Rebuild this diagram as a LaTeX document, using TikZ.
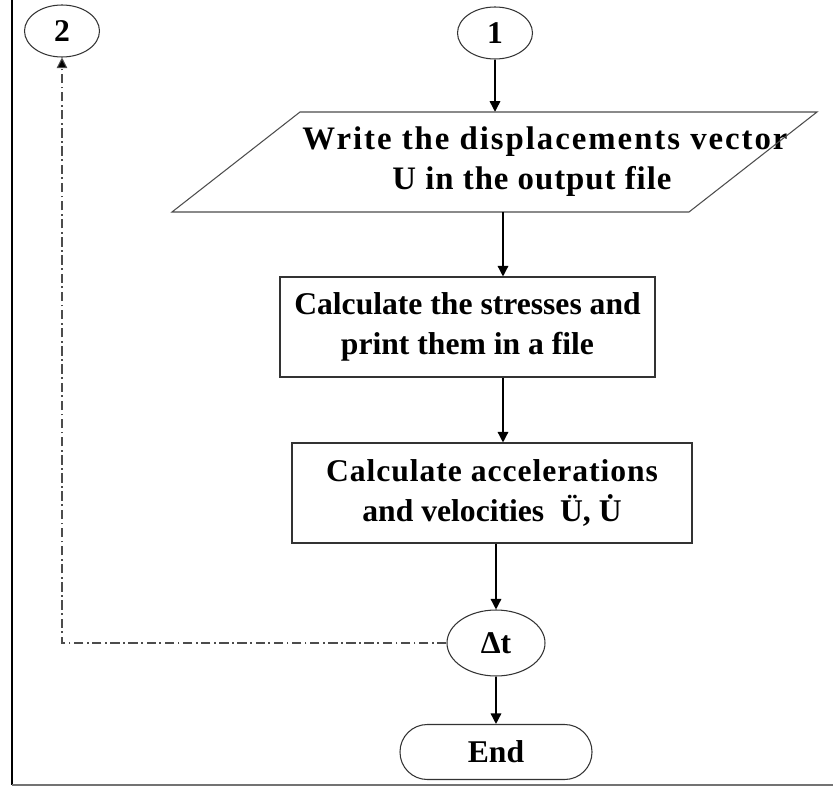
\documentclass[tikz,border=0pt]{standalone}
\usepackage{fontspec}
\setmainfont{Liberation Serif}
\newfontfamily\widefont{Liberation Serif}[LetterSpace=6]
\newfontfamily\midfont{Liberation Serif}[LetterSpace=3]
\usetikzlibrary{positioning,shapes,arrows.meta}

\begin{document}
\begin{tikzpicture}[x=0.03cm,y=-0.03cm,
  every node/.style={font=\fontsize{27}{34}\selectfont\bfseries},
  conn/.style={draw=black!80, line width=0.9pt, ellipse, inner sep=0pt},
  procbox/.style={draw=black!80, line width=0.9pt, rectangle, inner sep=0pt, align=center},
  flow/.style={line width=1.2pt, -{Triangle[length=9pt,width=9pt]}},
  back/.style={line width=0.9pt, black!70, dash pattern=on 8pt off 3pt on 1.5pt off 3pt,
    -{Triangle[length=9pt,width=9pt,fill=black]}}]
\useasboundingbox (0,0) rectangle (833,788);
% frame
\draw [line width = 1.4pt] (12,0) -- (12,785) ;
\draw [line width = 1.4pt, black!55] (12,785) -- (833,785) ;
% connectors on page
\node[conn, minimum width=2.25cm, minimum height=1.56cm] (c2) at (62,31) {2};
\node[conn, minimum width=2.25cm, minimum height=1.56cm] (c1) at (495,33) {1};
% output block
\node[inner sep=0pt, minimum height=3cm, align=left,
  font=\fontsize{28}{34}\widefont\bfseries] (para) at (545,162)
  {Write the displacements vector\\\hspace*{2.7cm}{\midfont U in the output file}};
\draw [line width = 0.9pt, black!70] (172,212) -- (689,212) -- (817,112) -- (300,112) -- cycle ;
\coordinate (colB) at (503,0);
% process boxes
\node[procbox, minimum width=11.25cm, minimum height=3cm] (stress) at (467.5,327)
  {Calculate the stresses and\\print them in a file};
\node[procbox, minimum width=12cm, minimum height=3cm] (accel) at (492,493)
  {{\midfont Calculate accelerations}\\and velocities~~\"U, \.U};
\node[conn, minimum width=2.94cm, minimum height=1.98cm] (dt) at (496,643) {Δt};
\node[draw=black!80, line width=0.9pt, rounded corners=0.82cm, minimum width=5.76cm,
  minimum height=1.65cm] (fin) at (496,752) {End};
% arrows
\draw[flow] (c1.south) -- (c1.south |- para.north);
\draw[flow] (para.south -| colB) -- (stress.north -| colB);
\draw[flow] (stress.south -| colB) -- (accel.north -| colB);
\draw[flow] (dt.north |- accel.south) -- (dt.north);
\draw[flow] (dt.south) -- (fin.north);
\coordinate (turn) at (c2.south |- dt.west);
\draw[back] (dt.west) -- (turn) -- (c2.south);
\end{tikzpicture}
\end{document}
